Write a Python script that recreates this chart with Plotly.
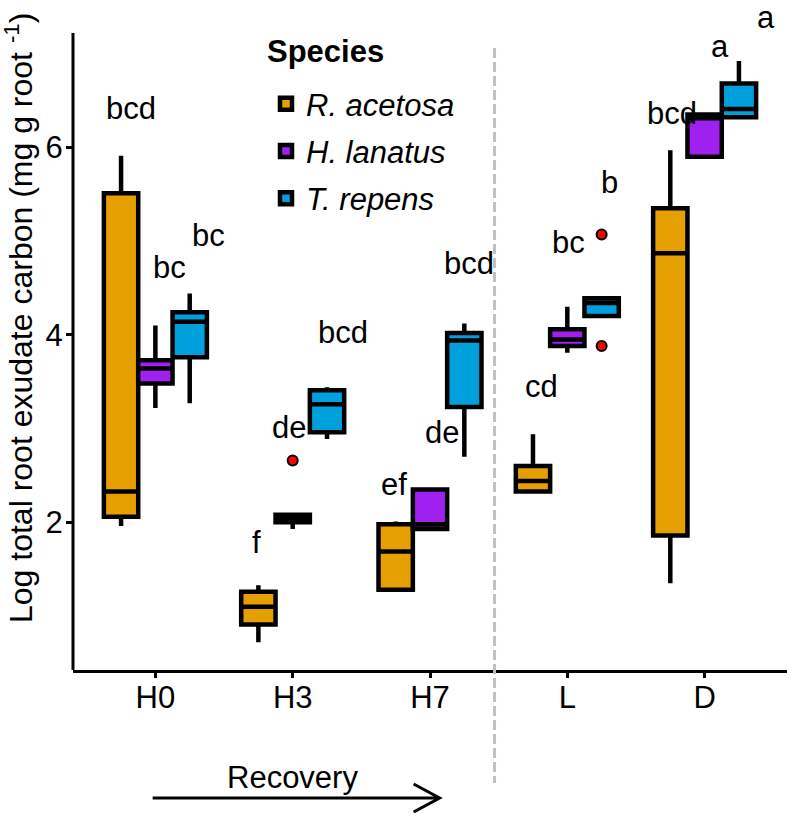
import plotly.graph_objects as go

# ---------------- data ----------------
categories = ["H0", "H3", "H7", "L", "D"]
species = ["R. acetosa", "H. lanatus", "T. repens"]
colors = ["#E69F00", "#A020F0", "#00A0DC"]

# box statistics per species (order of categories)
ra_lower = [1.96, 0.72, 1.28, 2.31, 1.35]
ra_q1 = [2.06, 0.91, 1.28, 2.33, 1.86]
ra_med = [2.33, 1.10, 1.69, 2.44, 4.87]
ra_q3 = [5.51, 1.26, 1.98, 2.60, 5.35]
ra_upper = [5.91, 1.33, 2.01, 2.94, 5.97]

hl_lower = [3.22, 1.93, 1.93, 3.81, 5.90]
hl_q1 = [3.48, 2.00, 1.93, 3.88, 5.90]
hl_med = [3.64, 2.04, 1.98, 3.95, 6.31]
hl_q3 = [3.73, 2.08, 2.35, 4.06, 6.35]
hl_upper = [4.10, 2.08, 2.35, 4.30, 6.35]

tr_lower = [3.27, 2.89, 2.70, 4.20, 6.32]
tr_q1 = [3.76, 2.96, 3.23, 4.20, 6.32]
tr_med = [4.14, 3.26, 3.94, 4.34, 6.41]
tr_q3 = [4.24, 3.41, 4.02, 4.39, 6.68]
tr_upper = [4.44, 3.44, 4.12, 4.39, 6.92]

# outliers
out_cat = ["H3", "L", "L"]
out_species = ["H. lanatus", "T. repens", "T. repens"]
out_val = [2.66, 5.07, 3.88]

# significance letters
ra_letters = ["bcd", "f", "ef", "cd", "bcd"]
hl_letters = ["bc", "de", "de", "bc", "a"]
tr_letters = ["bc", "bcd", "bcd", "b", "a"]

# letter placement (label positions, not data)
ra_lab_y = [6.41, 1.78, 2.40, 3.45, 6.36]
ra_lab_dx = [-0.175, -0.26, -0.26, -0.19, -0.24]
hl_lab_y = [4.72, 3.01, 2.96, 4.98, 7.08]
hl_lab_dx = [0.10, -0.03, 0.09, 0.01, 0.11]
tr_lab_y = [5.06, 4.02, 4.76, 5.62, 7.39]
tr_lab_dx = [0.39, 0.365, 0.285, 0.31, 0.45]

# ---------------- styling ----------------
FONT = "Liberation Sans, Arial, sans-serif"
XR = [-0.6, 4.6]
YR = [0.425, 7.55]
Y_AXIS_TOP = 7.22
BOXW = 0.25
DIVIDER = 2.47

def xp(i):
    return (i - XR[0]) / (XR[1] - XR[0])

W, H = 787, 813
ML, MR, MT, MB = 73, 0, 2, 143
PW, PH = W - ML - MR, H - MT - MB

def px_x(d):
    return d / PW

def px_y(d):
    return d / PH

stats = [
    (ra_lower, ra_q1, ra_med, ra_q3, ra_upper),
    (hl_lower, hl_q1, hl_med, hl_q3, hl_upper),
    (tr_lower, tr_q1, tr_med, tr_q3, tr_upper),
]

fig = go.Figure()
for k, (sp, col, st) in enumerate(zip(species, colors, stats)):
    lo, q1, md, q3, up = st
    fig.add_trace(go.Box(
        x=categories, q1=q1, median=md, q3=q3, lowerfence=lo, upperfence=up,
        name="<i>" + sp + "</i>", legendgroup=sp,
        fillcolor=col, line=dict(color="black", width=4.5),
        whiskerwidth=0, boxpoints=False, hoverinfo="skip",
    ))

offsets = {sp: (k - 1) * BOXW for k, sp in enumerate(species)}
fig.add_trace(go.Scatter(
    x=[categories.index(c) + offsets[s] for c, s in zip(out_cat, out_species)],
    y=out_val, mode="markers", xaxis="x2", showlegend=False,
    marker=dict(color="red", size=10, line=dict(color="black", width=2)),
    hoverinfo="skip",
))

annotations = []
for letters, ly, ldx in [(ra_letters, ra_lab_y, ra_lab_dx),
                         (hl_letters, hl_lab_y, hl_lab_dx),
                         (tr_letters, tr_lab_y, tr_lab_dx)]:
    for i, (t, yv, dx) in enumerate(zip(letters, ly, ldx)):
        annotations.append(dict(
            x=i + dx, y=yv, xref="x", yref="y", text=t, showarrow=False,
            font=dict(size=31, color="black", family=FONT),
        ))

# y axis title
annotations.append(dict(
    x=px_x(19 - ML), y=1 - px_y(318 - MT), xref="paper", yref="paper",
    text="Log total root exudate carbon (mg g root <sup>-1</sup>)",
    textangle=-90, showarrow=False, xanchor="center", yanchor="middle",
    font=dict(size=32, color="black", family=FONT),
))
# legend title
annotations.append(dict(
    x=px_x(265 - ML), y=1 - px_y(52 - MT), xref="paper", yref="paper",
    text="<b>Species</b>", showarrow=False, xanchor="left", yanchor="middle",
    font=dict(size=31, color="black", family=FONT),
))
# Recovery label
annotations.append(dict(
    x=1, y=-px_y(777 - (H - MB)), xref="x", yref="paper", text="Recovery",
    showarrow=False, yanchor="middle",
    font=dict(size=31, color="black", family=FONT),
))

arrow_y = -px_y(798 - (H - MB))
ax0, ax1 = xp(-0.02), xp(2.07)
hx, hy = px_x(26), px_y(14)
shapes = [
    dict(type="line", xref="paper", yref="y", x0=0, x1=0, y0=YR[0], y1=Y_AXIS_TOP,
         line=dict(color="black", width=3)),
    dict(type="line", xref="paper", yref="paper", x0=xp(DIVIDER), x1=xp(DIVIDER),
         y0=1 - px_y(48 - MT), y1=-px_y(783 - (H - MB)),
         line=dict(color="#C0C0C0", width=3, dash="10px,4px")),
    dict(type="path", xref="paper", yref="paper",
         path=f"M{ax0},{arrow_y} L{ax1},{arrow_y} M{ax1 - hx},{arrow_y + hy} L{ax1},{arrow_y} L{ax1 - hx},{arrow_y - hy}",
         line=dict(color="black", width=3)),
]

fig.update_layout(
    width=W, height=H,
    margin=dict(l=ML, r=MR, t=MT, b=MB),
    paper_bgcolor="white", plot_bgcolor="white",
    boxmode="group", boxgap=0.25, boxgroupgap=0,
    font=dict(family=FONT, color="black"),
    xaxis=dict(type="category", categoryorder="array", categoryarray=categories,
               range=XR, showline=True, linewidth=3, linecolor="black",
               ticks="outside", ticklen=5, tickwidth=3, tickcolor="black",
               tickfont=dict(size=31), showgrid=False, zeroline=False,
               ticklabelstandoff=-7),
    xaxis2=dict(overlaying="x", range=XR, visible=False),
    yaxis=dict(range=YR, tickvals=[2, 4, 6], ticks="outside", ticklen=6,
               tickwidth=3, tickcolor="black", tickfont=dict(size=31),
               showline=False, showgrid=False, zeroline=False,
               ticklabelstandoff=-3),
    legend=dict(x=px_x(266 - ML), y=1 - px_y(77 - MT), xanchor="left", yanchor="top",
                bgcolor="rgba(0,0,0,0)", font=dict(size=31),
                traceorder="grouped", tracegroupgap=4, itemwidth=30),
    annotations=annotations, shapes=shapes, showlegend=True,
)

fig.write_html("out.html", post_script="document.body.style.margin='0';",
               config={"displayModeBar": False})
